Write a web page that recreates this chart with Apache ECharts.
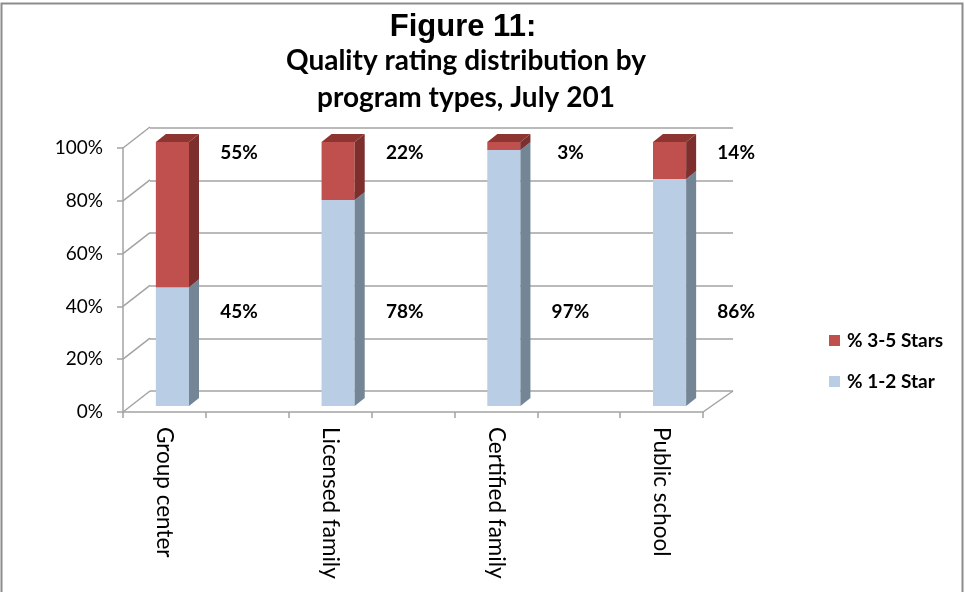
<!DOCTYPE html>
<html>
<head>
<meta charset="utf-8">
<script src="https://cdn.jsdelivr.net/npm/echarts@6/dist/echarts.min.js"></script>
<style>
html,body{margin:0;padding:0;background:#fff;}
#chart{width:965px;height:592px;}
</style>
</head>
<body>
<div id="chart"></div>
<script>
// ---- data ----
const categories = ['Group center', '', 'Licensed family', '', 'Certified family', '', 'Public school'];
const star12 = [45, null, 78, null, 97, null, 86];   // % 1-2 Star
const star35 = [55, null, 22, null, 3, null, 14];    // % 3-5 Stars
const yTickValues = [0, 20, 40, 60, 80, 100];
const seriesNames = ['% 1-2 Star', '% 3-5 Stars'];

// ---- styles ----
const FONT = 'Lato';
const GRID_COLOR = '#a3a3a3';
const DEPTH = [27, -21];          // 3D depth of the floor/walls
const BAR_SHIFT = [8, -6];        // bar front face offset into the depth
const BAR_DEPTH = [10, -8];       // bar thickness in depth
const COLORS = {
  blue: { front: '#b9cde5', side: '#748595', top: '#93a6bd' },
  red:  { front: '#c0504d', side: '#7d2f2d', top: '#8e3532' }
};

function barData(vals, bases) {
  const out = [];
  vals.forEach((v, i) => {
    if (v !== null && v !== undefined) out.push([i, v, bases ? bases[i] : 0]);
  });
  return out;
}

function makeBarRender(col, labelAt) {
  return function (params, api) {
    const i = api.value(0), v = api.value(1), b = api.value(2);
    const bandW = api.size([1, 0])[0];
    const faceW = bandW * 0.4;
    const p0 = api.coord([i, b]);
    const p1 = api.coord([i, b + v]);
    const cx = p0[0] + BAR_SHIFT[0];
    const x1 = cx - faceW / 2, x2 = cx + faceW / 2;
    const yb = p0[1] + BAR_SHIFT[1], yt = p1[1] + BAR_SHIFT[1];
    const dx = BAR_DEPTH[0], dy = BAR_DEPTH[1];
    const lp = api.coord([i, labelAt]);
    return {
      type: 'group',
      children: [
        { type: 'rect', shape: { x: x1, y: yt, width: x2 - x1, height: yb - yt }, style: { fill: col.front } },
        { type: 'polygon', shape: { points: [[x2, yt], [x2 + dx, yt + dy], [x2 + dx, yb + dy], [x2, yb]] }, style: { fill: col.side } },
        { type: 'polygon', shape: { points: [[x1, yt], [x1 + dx, yt + dy], [x2 + dx, yt + dy], [x2, yt]] }, style: { fill: col.top } },
        { type: 'text', style: { text: v + '%', x: p0[0] + bandW * 0.9, y: lp[1], align: 'center', verticalAlign: 'middle',
            font: 'bold 19px ' + FONT, fill: '#000' } }
      ]
    };
  };
}

function frameRender(params, api) {
  const v = api.value(0);
  const bandW = api.size([1, 0])[0];
  const pL = api.coord([0, v]);
  const xl = pL[0] - bandW / 2;
  const children = [
    { type: 'line', shape: { x1: xl, y1: pL[1], x2: xl + DEPTH[0], y2: pL[1] + DEPTH[1] }, style: { stroke: GRID_COLOR, lineWidth: 1.5 } }
  ];
  if (v === 0) {
    const pR = api.coord([categories.length - 1, v]);
    const xr = pR[0] + bandW / 2;
    children.push({ type: 'line', shape: { x1: xr, y1: pR[1], x2: xr + DEPTH[0] + 3, y2: pR[1] + DEPTH[1] }, style: { stroke: GRID_COLOR, lineWidth: 1.5 } });
  }
  return { type: 'group', children: children };
}

const chart = echarts.init(document.getElementById('chart'), null, { renderer: 'canvas' });
chart.setOption({
  backgroundColor: '#fff',
  animation: false,
  title: [
    { text: 'Figure 11:', left: 458, top: 7, textAlign: 'center',
      textStyle: { fontFamily: 'Liberation Sans', fontWeight: 'bold', fontSize: 31, color: '#000' } },
    { text: 'Quality rating distribution by\nprogram types, July 201', left: 461, top: 37, textAlign: 'center',
      textStyle: { fontFamily: FONT, fontWeight: 'bold', fontSize: 28, lineHeight: 37, color: '#000' } }
  ],
  legend: {
    orient: 'vertical', left: 829, top: 331, itemWidth: 11, itemHeight: 11, itemGap: 22, padding: 0,
    icon: 'rect',
    data: ['% 3-5 Stars', '% 1-2 Star'],
    textStyle: { fontFamily: FONT, fontWeight: 'bold', fontSize: 19, color: '#000', padding: [0, 0, 0, 2] }
  },
  graphic: [
    { type: 'rect', shape: { x: 1.5, y: 3.5, width: 961, height: 600 }, style: { fill: 'none', stroke: '#8c8c8c', lineWidth: 2 }, silent: true }
  ],
  grid: [
    { left: 123, top: 148, width: 580, height: 264, containLabel: false },
    { left: 150, top: 128, width: 583, height: 263, containLabel: false }
  ],
  xAxis: [
    { type: 'category', gridIndex: 0, data: categories, boundaryGap: true,
      axisLine: { lineStyle: { color: GRID_COLOR, width: 1.5 } },
      axisTick: { show: true, interval: 0, length: 6, lineStyle: { color: GRID_COLOR, width: 1.5 } },
      axisLabel: { interval: 0, rotate: -90, margin: 15, fontFamily: FONT, fontSize: 22.5, color: '#000' } },
    { type: 'category', gridIndex: 1, data: categories, show: false }
  ],
  yAxis: [
    { type: 'value', gridIndex: 0, min: 0, max: 100, interval: 20,
      axisLine: { show: true, lineStyle: { color: GRID_COLOR, width: 1.5 } },
      axisTick: { show: true, length: 6, lineStyle: { color: GRID_COLOR, width: 1.5 } },
      splitLine: { show: false },
      axisLabel: { formatter: '{value}%', margin: 20, fontFamily: FONT, fontSize: 19, color: '#000' } },
    { type: 'value', gridIndex: 1, min: 0, max: 100, interval: 20,
      axisLine: { show: false }, axisTick: { show: false }, axisLabel: { show: false },
      splitLine: { show: true, lineStyle: { color: GRID_COLOR, width: 1.5 } } }
  ],
  series: [
    { type: 'custom', name: 'frame', xAxisIndex: 0, yAxisIndex: 0, renderItem: frameRender,
      data: yTickValues.map(v => [v]), silent: true, z: 1 },
    { type: 'custom', name: seriesNames[0], xAxisIndex: 0, yAxisIndex: 0,
      itemStyle: { color: COLORS.blue.front },
      renderItem: makeBarRender(COLORS.blue, 38), data: barData(star12, null), z: 3,
      encode: { x: 0, y: 1 } },
    { type: 'custom', name: seriesNames[1], xAxisIndex: 0, yAxisIndex: 0,
      itemStyle: { color: COLORS.red.front },
      renderItem: makeBarRender(COLORS.red, 98), data: barData(star35, star12), z: 4,
      encode: { x: 0, y: 1 } }
  ]
});
</script>
</body>
</html>
